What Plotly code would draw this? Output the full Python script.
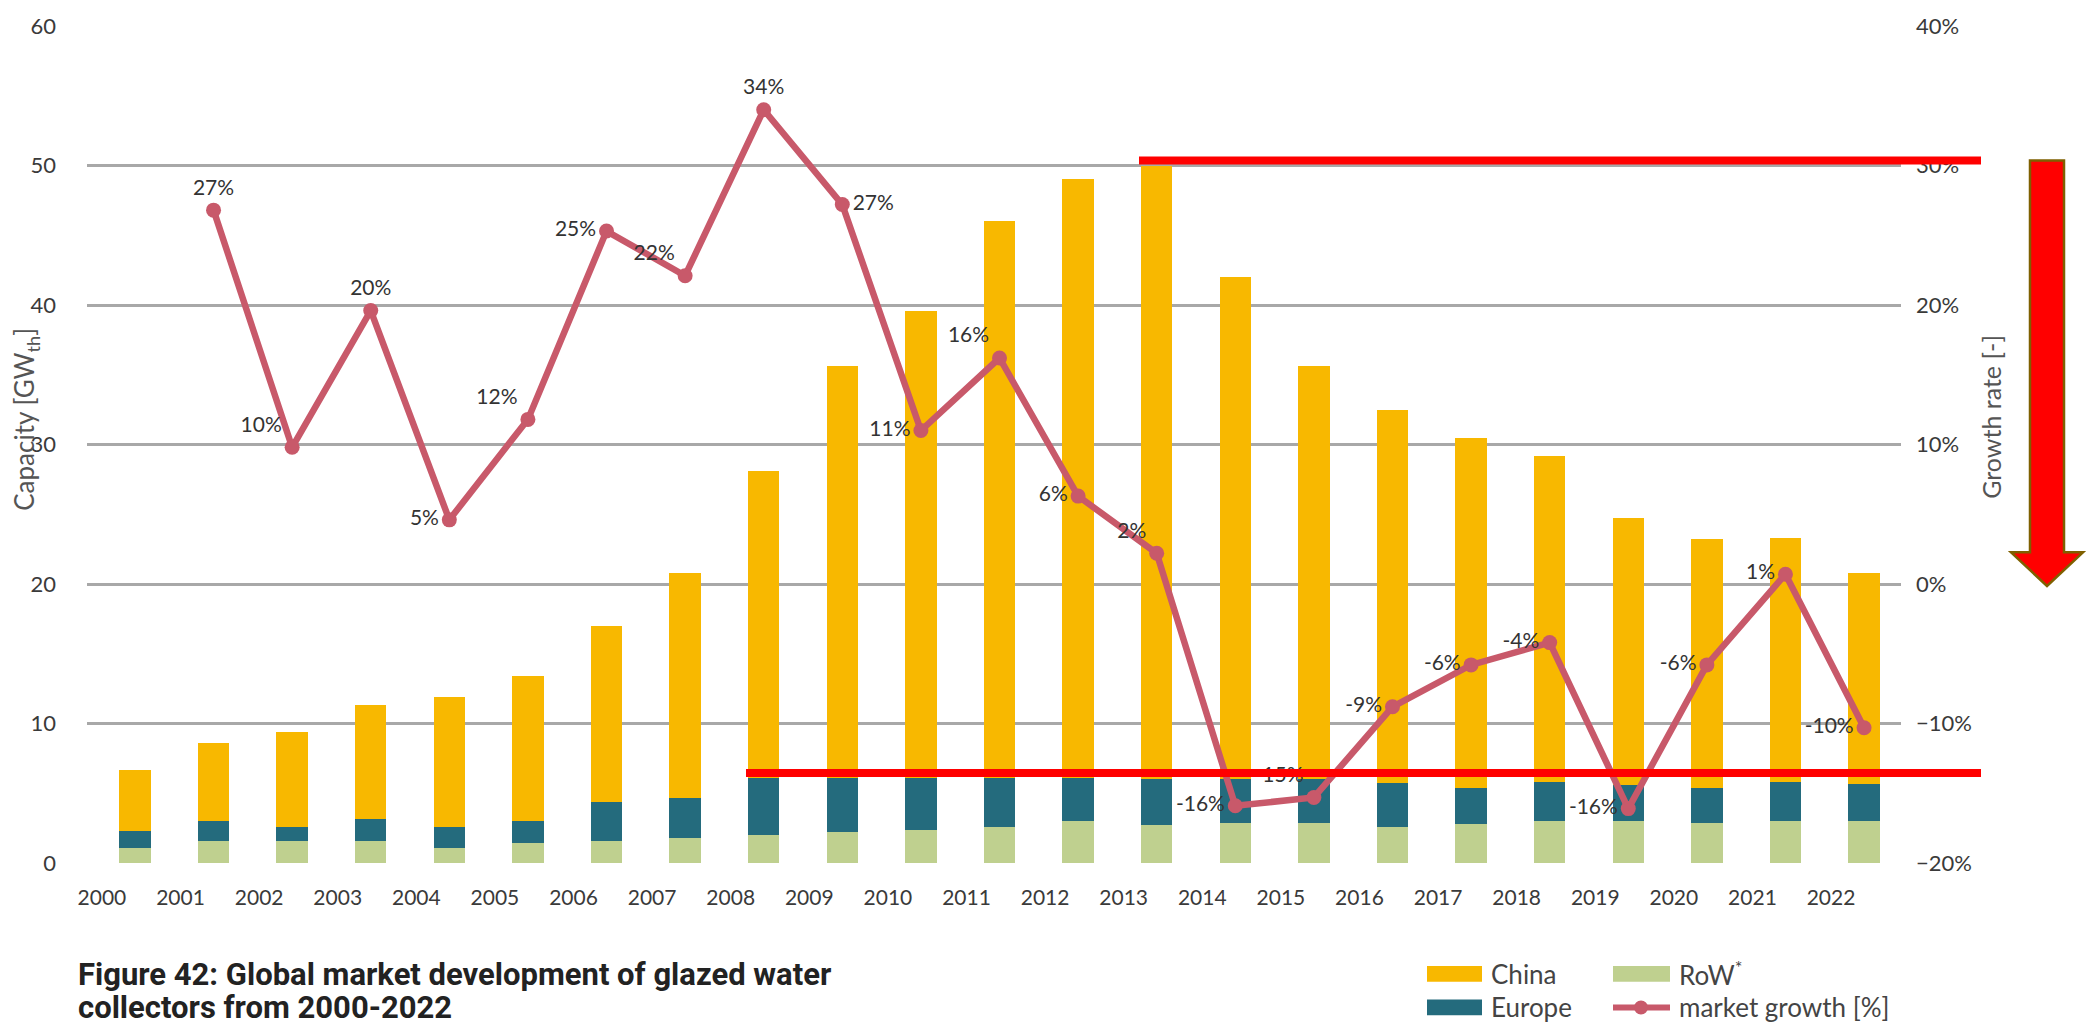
import plotly.graph_objects as go

# Glazed water collector market, newly installed capacity by region (GWth)
years = list(range(2000, 2023))
row_gw = [1.1, 1.55, 1.55, 1.55, 1.1, 1.4, 1.55, 1.8, 2.0, 2.2, 2.4, 2.6,
          3.0, 2.75, 2.9, 2.9, 2.55, 2.8, 3.0, 3.0, 2.85, 3.0, 3.0]
europe_gw = [1.2, 1.45, 1.05, 1.6, 1.5, 1.6, 2.85, 2.85, 4.1, 3.9, 3.7, 3.5,
             3.1, 3.3, 3.1, 3.1, 3.15, 2.6, 2.8, 2.6, 2.55, 2.8, 2.65]
china_gw = [4.4, 5.6, 6.8, 8.15, 9.3, 10.4, 12.6, 16.15, 22.0, 29.5, 33.5, 39.9,
            42.9, 43.95, 36.0, 29.6, 26.8, 25.1, 23.4, 19.1, 17.8, 17.5, 15.15]

# Year-on-year market growth in percent (2001-2022)
growth_years = years[1:]
growth_pct = [26.8, 9.8, 19.6, 4.6, 11.8, 25.3, 22.1, 34.0, 27.2, 11.0, 16.2,
              6.3, 2.2, -15.9, -15.3, -8.8, -5.8, -4.2, -16.1, -5.8, 0.7, -10.3]
growth_label_pos = ["top center", "top left", "top center", "middle left",
                    "top left", "middle left", "top left", "top center",
                    "middle right", "middle left", "top left", "middle left",
                    "top left", "middle left", "top left", "middle left",
                    "middle left", "middle left", "middle left", "middle left",
                    "middle left", "middle left"]

CHINA = "#F8B800"
EUROPE = "#246B7D"
ROW = "#BFD08F"
GROWTH = "#C8596A"
TEXT = "#3a3a3a"
FONT = "Lato"

W, H = 2089, 1029
ML, MR, MT, MB = 87, 188, 17, 166
PW, PH = W - ML - MR, H - MT - MB


def px(x):
    return (x - ML) / PW


def py(y):
    return (H - MB - y) / PH


fig = go.Figure()
fig.add_bar(x=years, y=row_gw, name="RoW*", marker_color=ROW, marker_line_width=0)
fig.add_bar(x=years, y=europe_gw, name="Europe", marker_color=EUROPE, marker_line_width=0)
fig.add_bar(x=years, y=china_gw, name="China", marker_color=CHINA, marker_line_width=0)
fig.add_scatter(
    x=growth_years, y=growth_pct, yaxis="y2", name="market growth [%]",
    mode="lines+markers+text",
    line=dict(color=GROWTH, width=6.5),
    marker=dict(color=GROWTH, size=15),
    text=[f"{v:.0f}%" for v in growth_pct],
    textposition=growth_label_pos,
    textfont=dict(family=FONT, size=21, color="#333333"),
    cliponaxis=False,
)

fig.update_layout(
    width=W, height=H,
    margin=dict(l=ML, r=MR, t=MT, b=MB),
    paper_bgcolor="white", plot_bgcolor="white",
    barmode="stack", bargap=0.6,
    showlegend=False,
    font=dict(family=FONT, color=TEXT),
    xaxis=dict(
        range=[1999.39, 2022.47],
        tickvals=[y - 0.42 for y in years],
        ticktext=[str(y) for y in years],
        showgrid=False, zeroline=False, showline=False,
        ticks="", ticklabelstandoff=20,
        tickfont=dict(family=FONT, size=21, color=TEXT),
    ),
    yaxis=dict(
        range=[0, 60], dtick=10,
        showgrid=True, gridcolor="#a8a8a8", gridwidth=2.5,
        zeroline=False, showline=False, ticks="",
        ticklabelstandoff=30,
        tickfont=dict(family=FONT, size=22, color=TEXT),
    ),
    yaxis2=dict(
        range=[-20, 40], dtick=10, overlaying="y", side="right",
        ticksuffix="%", showgrid=False, zeroline=False, showline=False,
        ticks="", ticklabelstandoff=14,
        tickfont=dict(family=FONT, size=22, color=TEXT),
    ),
)

shapes = []
# thick black baseline under the bars
shapes.append(dict(type="rect", xref="paper", x0=0, x1=1.003, yref="y",
                   ysizemode="pixel", yanchor=0, y0=-7, y1=0,
                   fillcolor="black", line_width=0, layer="above"))
# red highlight lines
shapes.append(dict(type="line", xref="paper", yref="paper",
                   x0=px(1139), x1=px(1981), y0=py(153), y1=py(153),
                   line=dict(color="#FF0000", width=8)))
shapes.append(dict(type="line", xref="paper", yref="paper",
                   x0=px(746), x1=px(1981), y0=py(772), y1=py(772),
                   line=dict(color="#FF0000", width=8)))
# downward arrow
pts = [(2030, 153), (2064, 153), (2064, 549), (2083, 549), (2047, 583),
       (2011, 549), (2030, 549)]
path = "M " + " L ".join(f"{px(x):.5f},{py(y):.5f}" for x, y in pts) + " Z"
shapes.append(dict(type="path", xref="paper", yref="paper", path=path,
                   fillcolor="#FF0000", line=dict(color="#7F6000", width=2.5)))

# legend swatches
for x0, x1, y0, y1, col in [(1427, 1482, 967, 983, CHINA),
                             (1427, 1482, 1001, 1017, EUROPE),
                             (1613, 1670, 967, 983, ROW)]:
    shapes.append(dict(type="rect", xref="paper", yref="paper",
                       x0=px(x0), x1=px(x1), y0=py(y1), y1=py(y0),
                       fillcolor=col, line_width=0))
shapes.append(dict(type="line", xref="paper", yref="paper",
                   x0=px(1613), x1=px(1670), y0=py(1009), y1=py(1009),
                   line=dict(color=GROWTH, width=6)))
shapes.append(dict(type="circle", xref="paper", yref="paper",
                   xsizemode="pixel", ysizemode="pixel",
                   xanchor=px(1641), yanchor=py(1009),
                   x0=-7, x1=7, y0=-7, y1=7,
                   fillcolor=GROWTH, line_width=0))
fig.update_layout(shapes=shapes)

ann = []
ann.append(dict(text="Capacity [GW<sub>th</sub>]", textangle=-90,
                xref="paper", yref="paper", x=px(26), y=py(415),
                xanchor="center", yanchor="middle", showarrow=False,
                font=dict(family=FONT, size=26, color="#555555")))
ann.append(dict(text="Growth rate [-]", textangle=-90,
                xref="paper", yref="paper", x=px(1991), y=py(412),
                xanchor="center", yanchor="middle", showarrow=False,
                font=dict(family=FONT, size=25, color="#555555")))
for label, x, y in [("China", 1490, 975), ("Europe", 1490, 1009),
                    ("RoW<sup>*</sup>", 1678, 975), ("market growth [%]", 1678, 1009)]:
    ann.append(dict(text=label, xref="paper", yref="paper", x=px(x), y=py(y),
                    xanchor="left", yanchor="middle", showarrow=False,
                    borderpad=0,
                    font=dict(family=FONT, size=26, color="#444444")))
for line, y in [("Figure 42: Global market development of glazed water", 976),
                ("collectors from 2000-2022", 1009)]:
    ann.append(dict(text=f"<b>{line}</b>", xref="paper", yref="paper",
                    x=px(77), y=py(y), xanchor="left", yanchor="middle",
                    showarrow=False, borderpad=0,
                    font=dict(family="Roboto", size=31, color="#222222")))
fig.update_layout(annotations=ann)

fig.write_html("out.html")
